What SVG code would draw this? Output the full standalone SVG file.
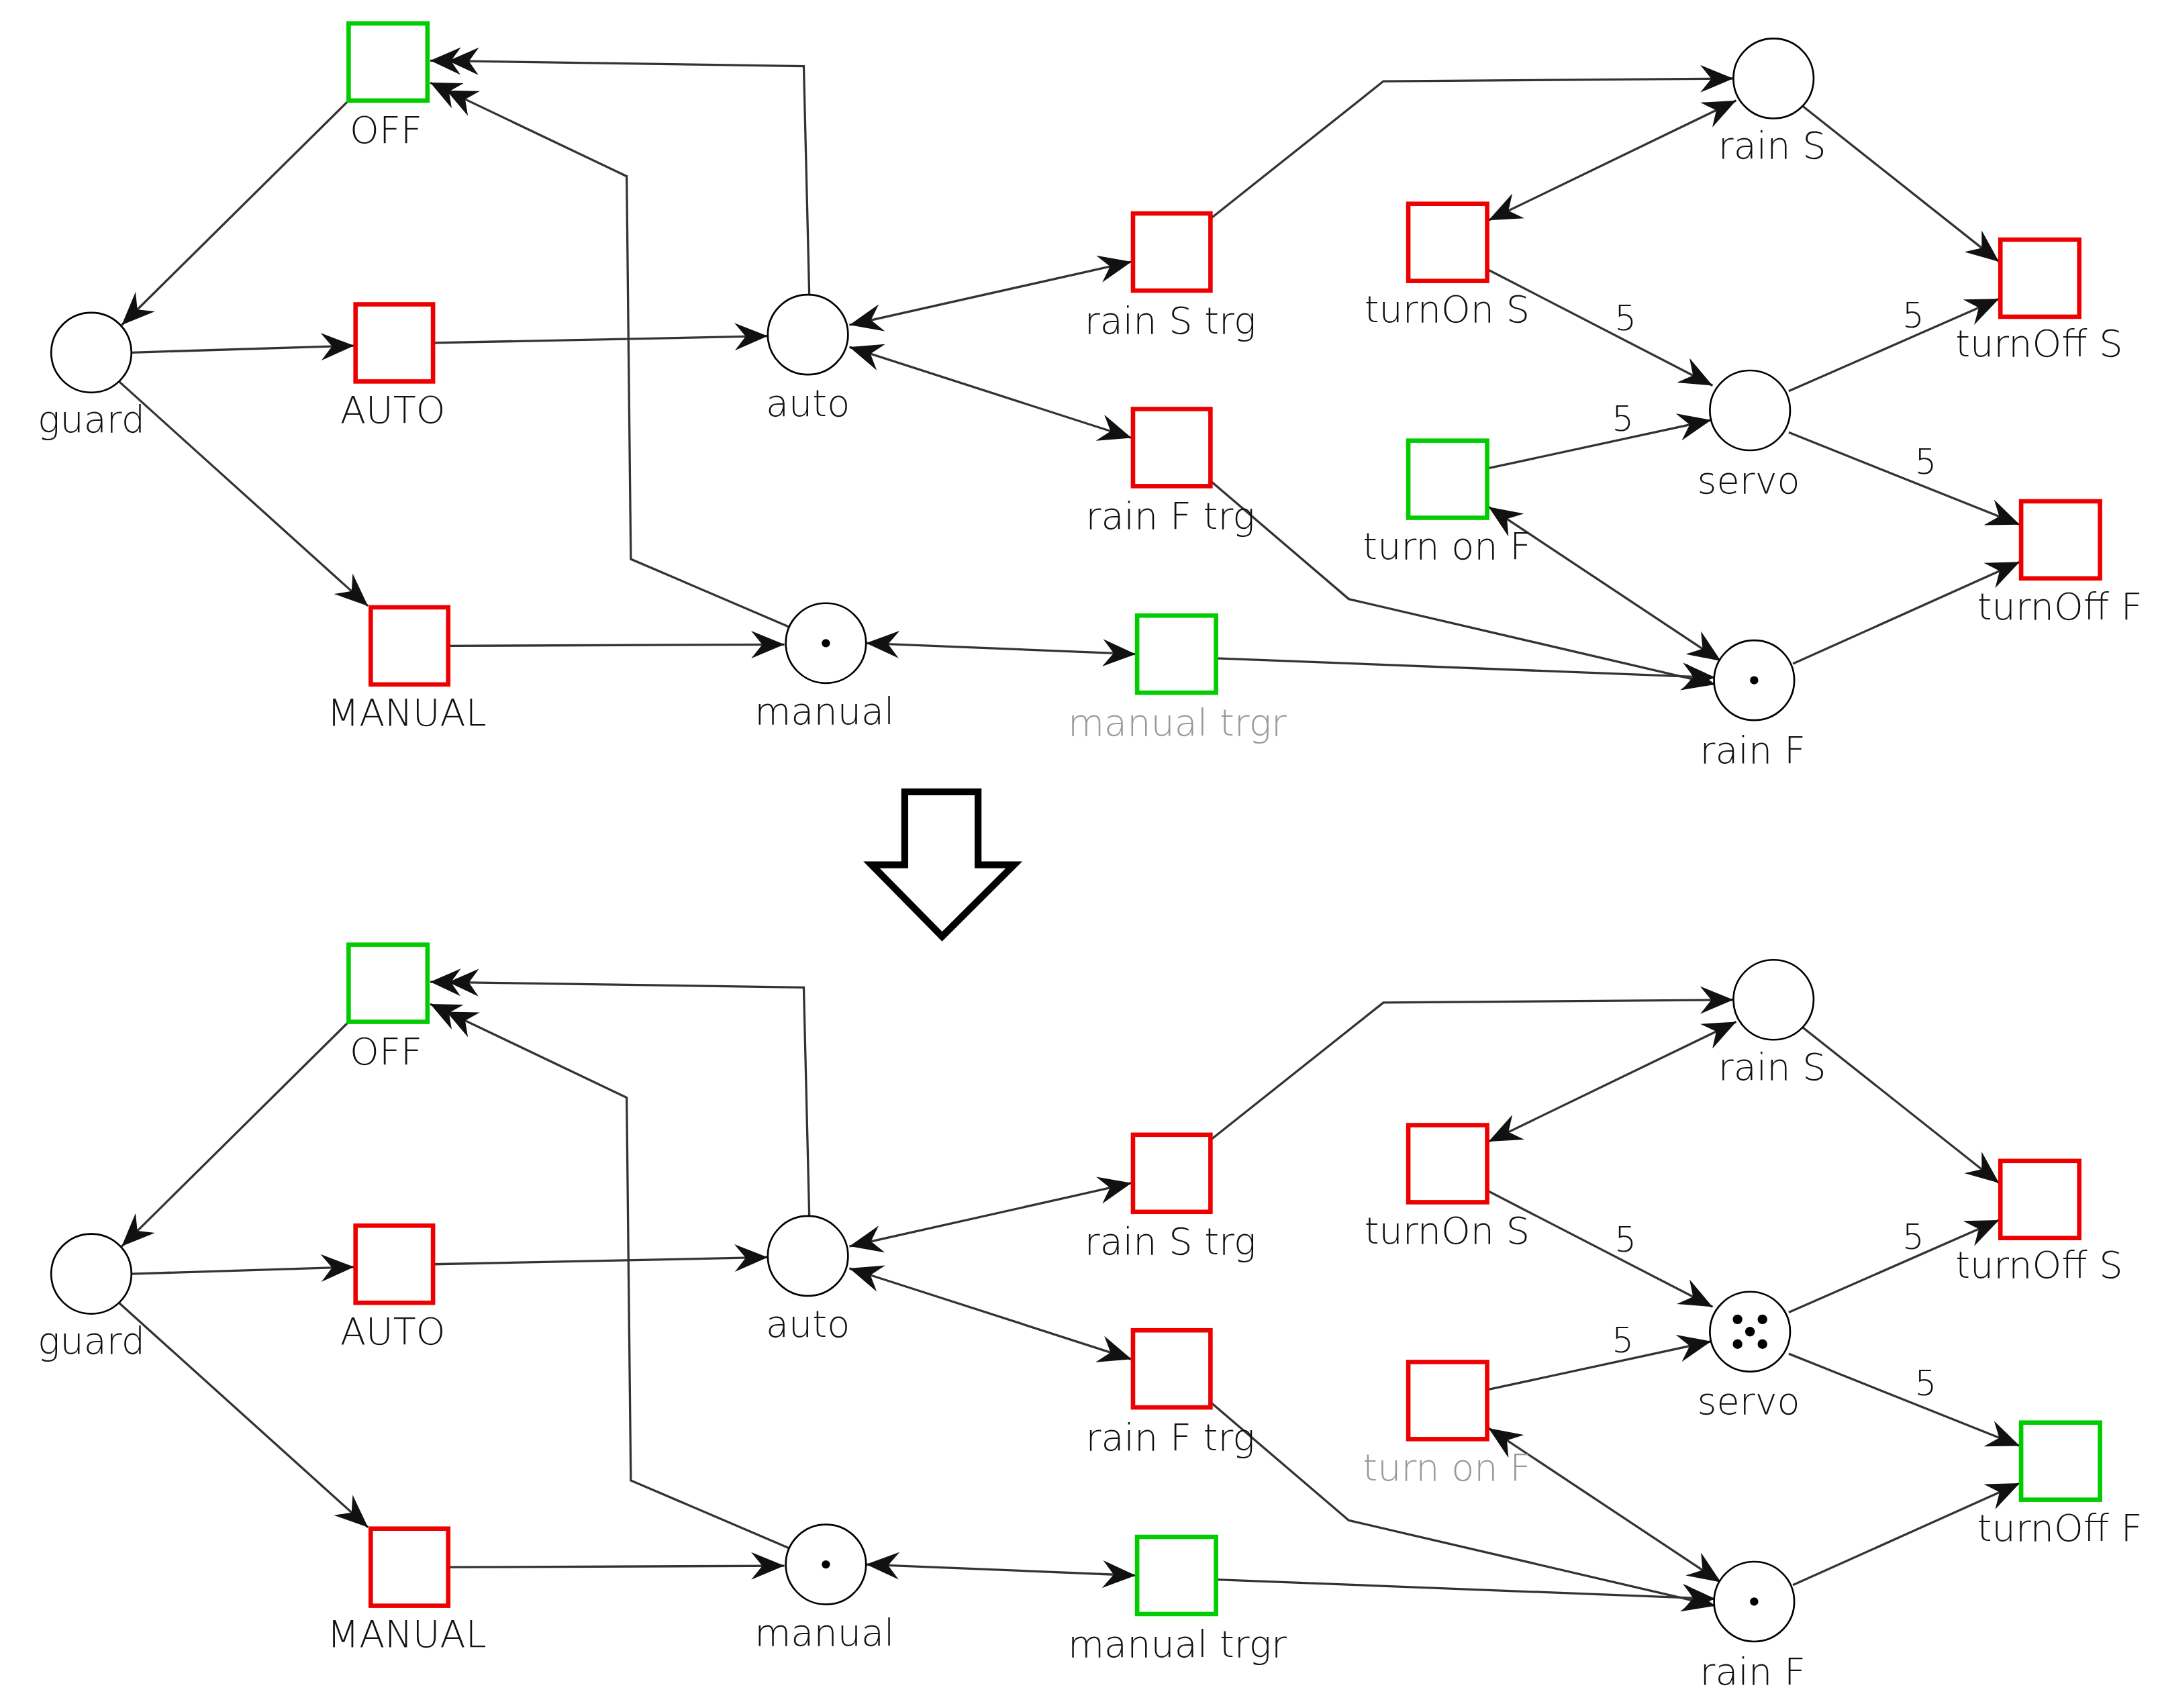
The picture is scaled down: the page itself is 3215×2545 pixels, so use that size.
<svg xmlns="http://www.w3.org/2000/svg" width="3215" height="2545" viewBox="0 0 3215 2545">
<style>
.e{fill:none;stroke:#333;stroke-width:1.6}
.a{marker-end:url(#ah)}
.b{marker-end:url(#ah);marker-start:url(#ah)}
.d{marker-end:url(#dh)}
.tr{fill:#fff;stroke:#e00;stroke-width:3.2}
.tg{fill:#fff;stroke:#0c0;stroke-width:3.2}
.p{fill:#fff;stroke:#000;stroke-width:1.3}
.k{fill:#000}
text{font-family:"DejaVu Sans","Liberation Sans",sans-serif;font-weight:200;font-size:27px;fill:#111;text-anchor:middle}
.g{fill:#999}
.w{font-size:25px}
</style>
<defs>
<marker id="ah" markerUnits="userSpaceOnUse" markerWidth="26" markerHeight="20" refX="24" refY="10" orient="auto-start-reverse"><path d="M0,0 L24,10 L0,20 L8,10z" fill="#111"/></marker>
<marker id="dh" markerUnits="userSpaceOnUse" markerWidth="38" markerHeight="20" refX="35" refY="10" orient="auto"><path d="M0,0 L22,10 L0,20 L7,10z M13,0 L35,10 L13,20 L20,10z" fill="#111"/></marker>
</defs>
<rect width="3215" height="2545" fill="#fff"/>
<g transform="scale(2.061,2.052)">
<g id="edges-top">
<path class="e a" d="M252,73 L88,236"/>
<path class="e a" d="M95,256 L256,251"/>
<path class="e a" d="M86,277 L266,440"/>
<path class="e a" d="M313,249 L555,244"/>
<path class="e a" d="M325,469 L567,468"/>
<path class="e d" d="M585,214 L581,48 L311,44"/>
<path class="e d" d="M570,455 L456,406 L453,128 L311,60"/>
<path class="e b" d="M614,236 L818,190"/>
<path class="e b" d="M614,252 L818,318"/>
<path class="e b" d="M626,467 L821,475"/>
<path class="e a" d="M876,158 L1000,59 L1253,57"/>
<path class="e a" d="M876,350 L975,435 L1240,497"/>
<path class="e a" d="M879,478 L1240,492"/>
<path class="e b" d="M1076,160 L1255,73"/>
<path class="e a" d="M1076,196 L1238,280"/>
<path class="e a" d="M1076,340 L1237,305"/>
<path class="e b" d="M1076,368 L1244,480"/>
<path class="e a" d="M1303,77 L1445,190"/>
<path class="e a" d="M1293,284 L1445,217"/>
<path class="e a" d="M1293,314 L1460,381"/>
<path class="e a" d="M1296,482 L1460,408"/>
<text class="w" x="1175" y="240">5</text><text class="w" x="1173" y="313">5</text><text class="w" x="1383" y="238">5</text><text class="w" x="1392" y="344">5</text>
</g>
<g id="edges-bottom" transform="translate(0,669)">
<path class="e a" d="M252,73 L88,236"/>
<path class="e a" d="M95,256 L256,251"/>
<path class="e a" d="M86,277 L266,440"/>
<path class="e a" d="M313,249 L555,244"/>
<path class="e a" d="M325,469 L567,468"/>
<path class="e d" d="M585,214 L581,48 L311,44"/>
<path class="e d" d="M570,455 L456,406 L453,128 L311,60"/>
<path class="e b" d="M614,236 L818,190"/>
<path class="e b" d="M614,252 L818,318"/>
<path class="e b" d="M626,467 L821,475"/>
<path class="e a" d="M876,158 L1000,59 L1253,57"/>
<path class="e a" d="M876,350 L975,435 L1240,497"/>
<path class="e a" d="M879,478 L1240,492"/>
<path class="e b" d="M1076,160 L1255,73"/>
<path class="e a" d="M1076,196 L1238,280"/>
<path class="e a" d="M1076,340 L1237,305"/>
<path class="e b" d="M1076,368 L1244,480"/>
<path class="e a" d="M1303,77 L1445,190"/>
<path class="e a" d="M1293,284 L1445,217"/>
<path class="e a" d="M1293,314 L1460,381"/>
<path class="e a" d="M1296,482 L1460,408"/>
<text class="w" x="1175" y="240">5</text><text class="w" x="1173" y="313">5</text><text class="w" x="1383" y="238">5</text><text class="w" x="1392" y="344">5</text>
</g>
<g id="top">
<g id="t-OFF"><rect class="tg" x="252" y="17" width="57" height="56"/><text x="279" y="104">OFF</text></g>
<g id="t-AUTO"><rect class="tr" x="257" y="221" width="56" height="56"/><text x="284" y="307">AUTO</text></g>
<g id="t-MANUAL"><rect class="tr" x="268" y="441" width="56" height="56"/><text x="294" y="527">MANUAL</text></g>
<g id="t-rainStrg"><rect class="tr" x="819" y="155" width="56" height="56"/><text x="846" y="242">rain S trg</text></g>
<g id="t-rainFtrg"><rect class="tr" x="819" y="297" width="56" height="56"/><text x="846" y="384">rain F trg</text></g>
<g id="t-manualtrgr"><rect class="tg" x="822" y="447" width="57" height="56"/><text class="g" x="851" y="534">manual trgr</text></g>
<g id="t-turnOnS"><rect class="tr" x="1018" y="148" width="57" height="56"/><text x="1046" y="234">turnOn S</text></g>
<g id="t-turnonF"><rect class="tg" x="1018" y="320" width="57" height="56"/><text x="1046" y="406">turn on F</text></g>
<g id="t-turnOffS"><rect class="tr" x="1446" y="174" width="57" height="56"/><text x="1474" y="259">turnOff S</text></g>
<g id="t-turnOffF"><rect class="tr" x="1461" y="364" width="57" height="56"/><text x="1489" y="450">turnOff F</text></g>
<g id="t-guard"><circle class="p" cx="66" cy="256" r="29"/><text x="66" y="314">guard</text></g>
<g id="t-auto"><circle class="p" cx="584" cy="243" r="29"/><text x="584" y="302">auto</text></g>
<g id="t-manual"><circle class="p" cx="597" cy="467" r="29"/><circle class="k" cx="597" cy="467" r="3"/><text x="596" y="526">manual</text></g>
<g id="t-rainS"><circle class="p" cx="1282" cy="57" r="29"/><text x="1281" y="115">rain S</text></g>
<g id="t-servo"><circle class="p" cx="1265" cy="298" r="29"/><text x="1264" y="358">servo</text></g>
<g id="t-rainF"><circle class="p" cx="1268" cy="494" r="29"/><circle class="k" cx="1268" cy="494" r="3"/><text x="1267" y="554">rain F</text></g>
</g>
<g id="arrow"><path d="M654,575 L707,575 L707,628 L733,628 L681,680 L630,628 L654,628 Z" fill="#fff" stroke="#000" stroke-width="5" stroke-linejoin="miter"/></g>
<g id="bottom" transform="translate(0,669)">
<g id="b-OFF"><rect class="tg" x="252" y="17" width="57" height="56"/><text x="279" y="104">OFF</text></g>
<g id="b-AUTO"><rect class="tr" x="257" y="221" width="56" height="56"/><text x="284" y="307">AUTO</text></g>
<g id="b-MANUAL"><rect class="tr" x="268" y="441" width="56" height="56"/><text x="294" y="527">MANUAL</text></g>
<g id="b-rainStrg"><rect class="tr" x="819" y="155" width="56" height="56"/><text x="846" y="242">rain S trg</text></g>
<g id="b-rainFtrg"><rect class="tr" x="819" y="297" width="56" height="56"/><text x="846" y="384">rain F trg</text></g>
<g id="b-manualtrgr"><rect class="tg" x="822" y="447" width="57" height="56"/><text x="851" y="534">manual trgr</text></g>
<g id="b-turnOnS"><rect class="tr" x="1018" y="148" width="57" height="56"/><text x="1046" y="234">turnOn S</text></g>
<g id="b-turnonF"><rect class="tr" x="1018" y="320" width="57" height="56"/><text class="g" x="1046" y="406">turn on F</text></g>
<g id="b-turnOffS"><rect class="tr" x="1446" y="174" width="57" height="56"/><text x="1474" y="259">turnOff S</text></g>
<g id="b-turnOffF"><rect class="tg" x="1461" y="364" width="57" height="56"/><text x="1489" y="450">turnOff F</text></g>
<g id="b-guard"><circle class="p" cx="66" cy="256" r="29"/><text x="66" y="314">guard</text></g>
<g id="b-auto"><circle class="p" cx="584" cy="243" r="29"/><text x="584" y="302">auto</text></g>
<g id="b-manual"><circle class="p" cx="597" cy="467" r="29"/><circle class="k" cx="597" cy="467" r="3"/><text x="596" y="526">manual</text></g>
<g id="b-rainS"><circle class="p" cx="1282" cy="57" r="29"/><text x="1281" y="115">rain S</text></g>
<g id="b-servo"><circle class="p" cx="1265" cy="298" r="29"/><circle class="k" cx="1256" cy="289" r="3.5"/><circle class="k" cx="1274" cy="289" r="3.5"/><circle class="k" cx="1265" cy="298" r="3.5"/><circle class="k" cx="1256" cy="307" r="3.5"/><circle class="k" cx="1274" cy="307" r="3.5"/><text x="1264" y="358">servo</text></g>
<g id="b-rainF"><circle class="p" cx="1268" cy="494" r="29"/><circle class="k" cx="1268" cy="494" r="3"/><text x="1267" y="554">rain F</text></g>
</g>
</g>
</svg>
